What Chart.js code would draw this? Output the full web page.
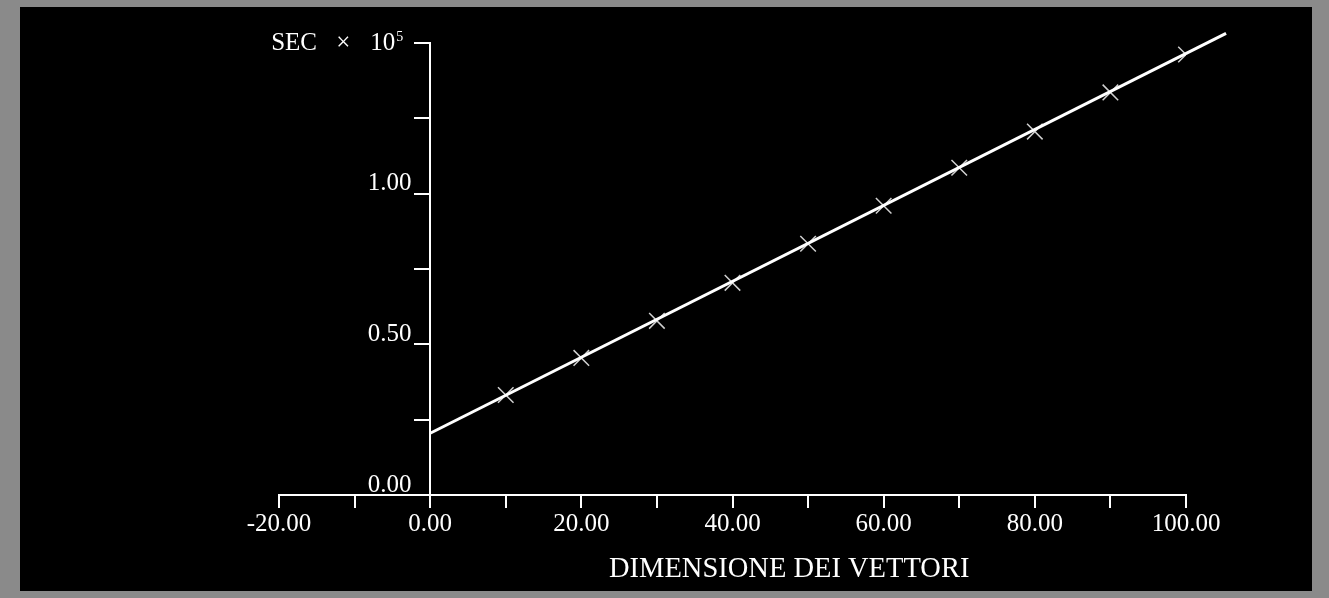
<!DOCTYPE html>
<html>
<head>
<meta charset="utf-8">
<script src="https://cdn.jsdelivr.net/npm/chart.js@4"></script>
<style>
  html, body { margin: 0; padding: 0; }
  body { width: 1329px; height: 598px; background: #8a8a8a; position: relative; overflow: hidden; }
  #frame { position: absolute; left: 20px; top: 7px; width: 1292px; height: 584px; background: #000; }
</style>
</head>
<body>
<div id="frame"><canvas id="chart" width="1292" height="584"></canvas></div>
<script>
// measured points (x = vector size, y = seconds x 10^5)
const sizes = [10, 20, 30, 40, 50, 60, 70, 80, 90, 100];
const times = [0.332, 0.455, 0.578, 0.704, 0.834, 0.960, 1.086, 1.206, 1.336, 1.462];

// fitted line endpoints
const fitX = [0, 105.3];
const fitY = [0.205, 1.532];

const xTicks = [-20, 0, 20, 40, 60, 80, 100];   // labelled x ticks
const yTicks = [0, 0.5, 1.0];                  // labelled y ticks
const yTitleExp = "5";
const xTitle = "DIMENSIONE DEI VETTORI";

const serif = "'Liberation Serif', 'Times New Roman', serif";

const titlesPlugin = {
  id: "titles",
  afterDraw(chart) {
    const ctx = chart.ctx;
    const xs = chart.scales.x;
    const ys = chart.scales.y;
    const x0 = xs.getPixelForValue(0);
    const yTop = ys.getPixelForValue(1.5);
    ctx.save();
    ctx.fillStyle = "#fff";
    ctx.textBaseline = "alphabetic";
    // y axis title with exponent
    ctx.font = "25px " + serif;
    ctx.textAlign = "left";
    ctx.fillText("SEC", x0 - 159, yTop + 7);
    ctx.fillText("\u00d7", x0 - 94, yTop + 7);
    ctx.fillText("10", x0 - 60, yTop + 7);
    ctx.font = "14px " + serif;
    ctx.fillText(yTitleExp, x0 - 34, yTop - 2);
    // x axis title
    ctx.font = "28.5px " + serif;
    ctx.textAlign = "center";
    ctx.fillText(xTitle, xs.getPixelForValue(47.5), chart.chartArea.bottom + 82);
    ctx.restore();
  }
};

const ctx = document.getElementById("chart").getContext("2d");

new Chart(ctx, {
  type: "scatter",
  data: {
    datasets: [
      {
        label: "fit",
        data: fitX.map((x, i) => ({ x: x, y: fitY[i] })),
        showLine: true,
        borderColor: "#fff",
        borderWidth: 3,
        pointRadius: 0,
        clip: false
      },
      {
        label: "misure",
        data: sizes.map((x, i) => ({ x: x, y: times[i] })),
        showLine: false,
        pointStyle: "crossRot",
        pointRadius: 11,
        borderColor: "#d0d0d0",
        borderWidth: 1.5
      }
    ]
  },
  options: {
    responsive: false,
    animation: false,
    layout: { padding: { left: 259, right: 126, top: 36, bottom: 0 } },
    plugins: {
      legend: { display: false },
      tooltip: { enabled: false }
    },
    scales: {
      x: {
        type: "linear",
        min: -20,
        max: 100,
        afterFit: (scale) => { scale.height = 96; },
        border: { color: "#fff", width: 2 },
        grid: { drawOnChartArea: false, drawTicks: true, tickLength: 13, color: "#fff", lineWidth: 2 },
        ticks: {
          stepSize: 10,
          color: "#fff",
          padding: 1,
          font: { family: serif, size: 25 },
          callback: (v) => xTicks.includes(v) ? v.toFixed(2) : ""
        }
      },
      y: {
        type: "linear",
        position: { x: 0 },
        min: 0,
        max: 1.5,
        border: { color: "#fff", width: 2 },
        grid: { drawOnChartArea: false, drawTicks: true, tickLength: 15, color: "#fff", lineWidth: 2 },
        ticks: {
          stepSize: 0.25,
          color: "#fff",
          labelOffset: -10,
          font: { family: serif, size: 25 },
          // labels sit left of the tick marks (axis placed at x = 0 ignores tick length)
          callback: (v) => yTicks.includes(v) ? v.toFixed(2) + "   " : ""
        }
      }
    }
  },
  plugins: [titlesPlugin]
});
</script>
</body>
</html>
